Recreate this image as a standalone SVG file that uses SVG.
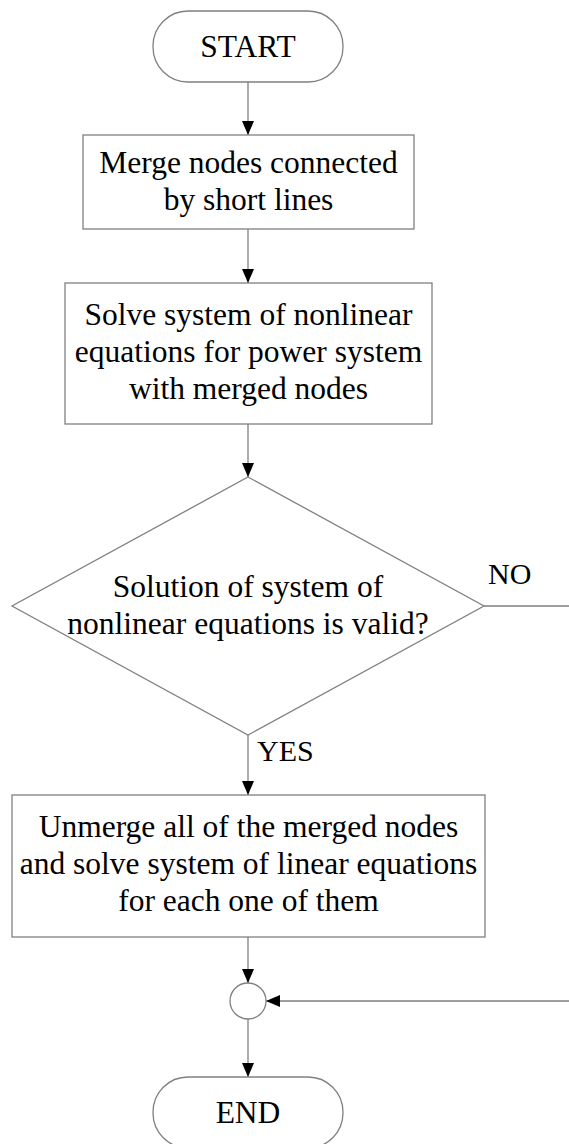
<svg xmlns="http://www.w3.org/2000/svg" width="569" height="1144" viewBox="0 0 569 1144">
<style>
  .shape { fill: #ffffff; stroke: #808080; stroke-width: 1.3; }
  .conn { fill: none; stroke: #808080; stroke-width: 1.3; marker-end: url(#arrow); }
  .t { font-family: "Liberation Serif", "Times New Roman", serif; font-size: 31.5px; fill: #000000; text-anchor: middle; }
  .lbl { font-family: "Liberation Serif", "Times New Roman", serif; font-size: 30px; fill: #000000; }
</style>
<defs>
  <marker id="arrow" markerUnits="userSpaceOnUse" markerWidth="14" markerHeight="12" refX="14" refY="6" orient="auto">
    <path d="M0,0 L14,6 L0,12 Z" fill="#000000"/>
  </marker>
</defs>
<rect width="569" height="1144" fill="#ffffff"/>
<g id="connectors">
  <path class="conn" d="M248,82 V135"/>
  <path class="conn" d="M248,229 V283"/>
  <path class="conn" d="M248,424 V477"/>
  <path class="conn" d="M248,735 V795"/>
  <path class="conn" d="M248,937 V983"/>
  <path class="conn" d="M248,1019 V1077"/>
  <path class="conn" d="M484,606 H590 V1001 H266"/>
</g>
<g id="start">
  <rect class="shape" x="153" y="11" width="190" height="71" rx="35" ry="35"/>
  <text class="t" x="248" y="57">START</text>
</g>
<g id="merge">
  <rect class="shape" x="83" y="135" width="331" height="94"/>
  <text class="t" x="248.5" y="173">Merge nodes connected</text>
  <text class="t" x="248.5" y="210">by short lines</text>
</g>
<g id="solve">
  <rect class="shape" x="65" y="283" width="367" height="141"/>
  <text class="t" x="248.5" y="325">Solve system of nonlinear</text>
  <text class="t" x="248.5" y="362">equations for power system</text>
  <text class="t" x="248.5" y="399">with merged nodes</text>
</g>
<g id="decision">
  <path class="shape" d="M248,477 L484,606 L248,735 L12,606 Z"/>
  <text class="t" x="248" y="597">Solution of system of</text>
  <text class="t" x="248" y="634">nonlinear equations is valid?</text>
</g>
<g id="label-no">
  <text class="lbl" x="488" y="584">NO</text>
</g>
<g id="label-yes">
  <text class="lbl" x="257" y="761">YES</text>
</g>
<g id="unmerge">
  <rect class="shape" x="12" y="795" width="473" height="142"/>
  <text class="t" x="248.5" y="837">Unmerge all of the merged nodes</text>
  <text class="t" x="248.5" y="874">and solve system of linear equations</text>
  <text class="t" x="248.5" y="911">for each one of them</text>
</g>
<g id="junction">
  <circle class="shape" cx="248" cy="1001" r="18"/>
</g>
<g id="end">
  <rect class="shape" x="153" y="1077" width="190" height="71" rx="35" ry="35"/>
  <text class="t" x="248" y="1123">END</text>
</g>
</svg>
